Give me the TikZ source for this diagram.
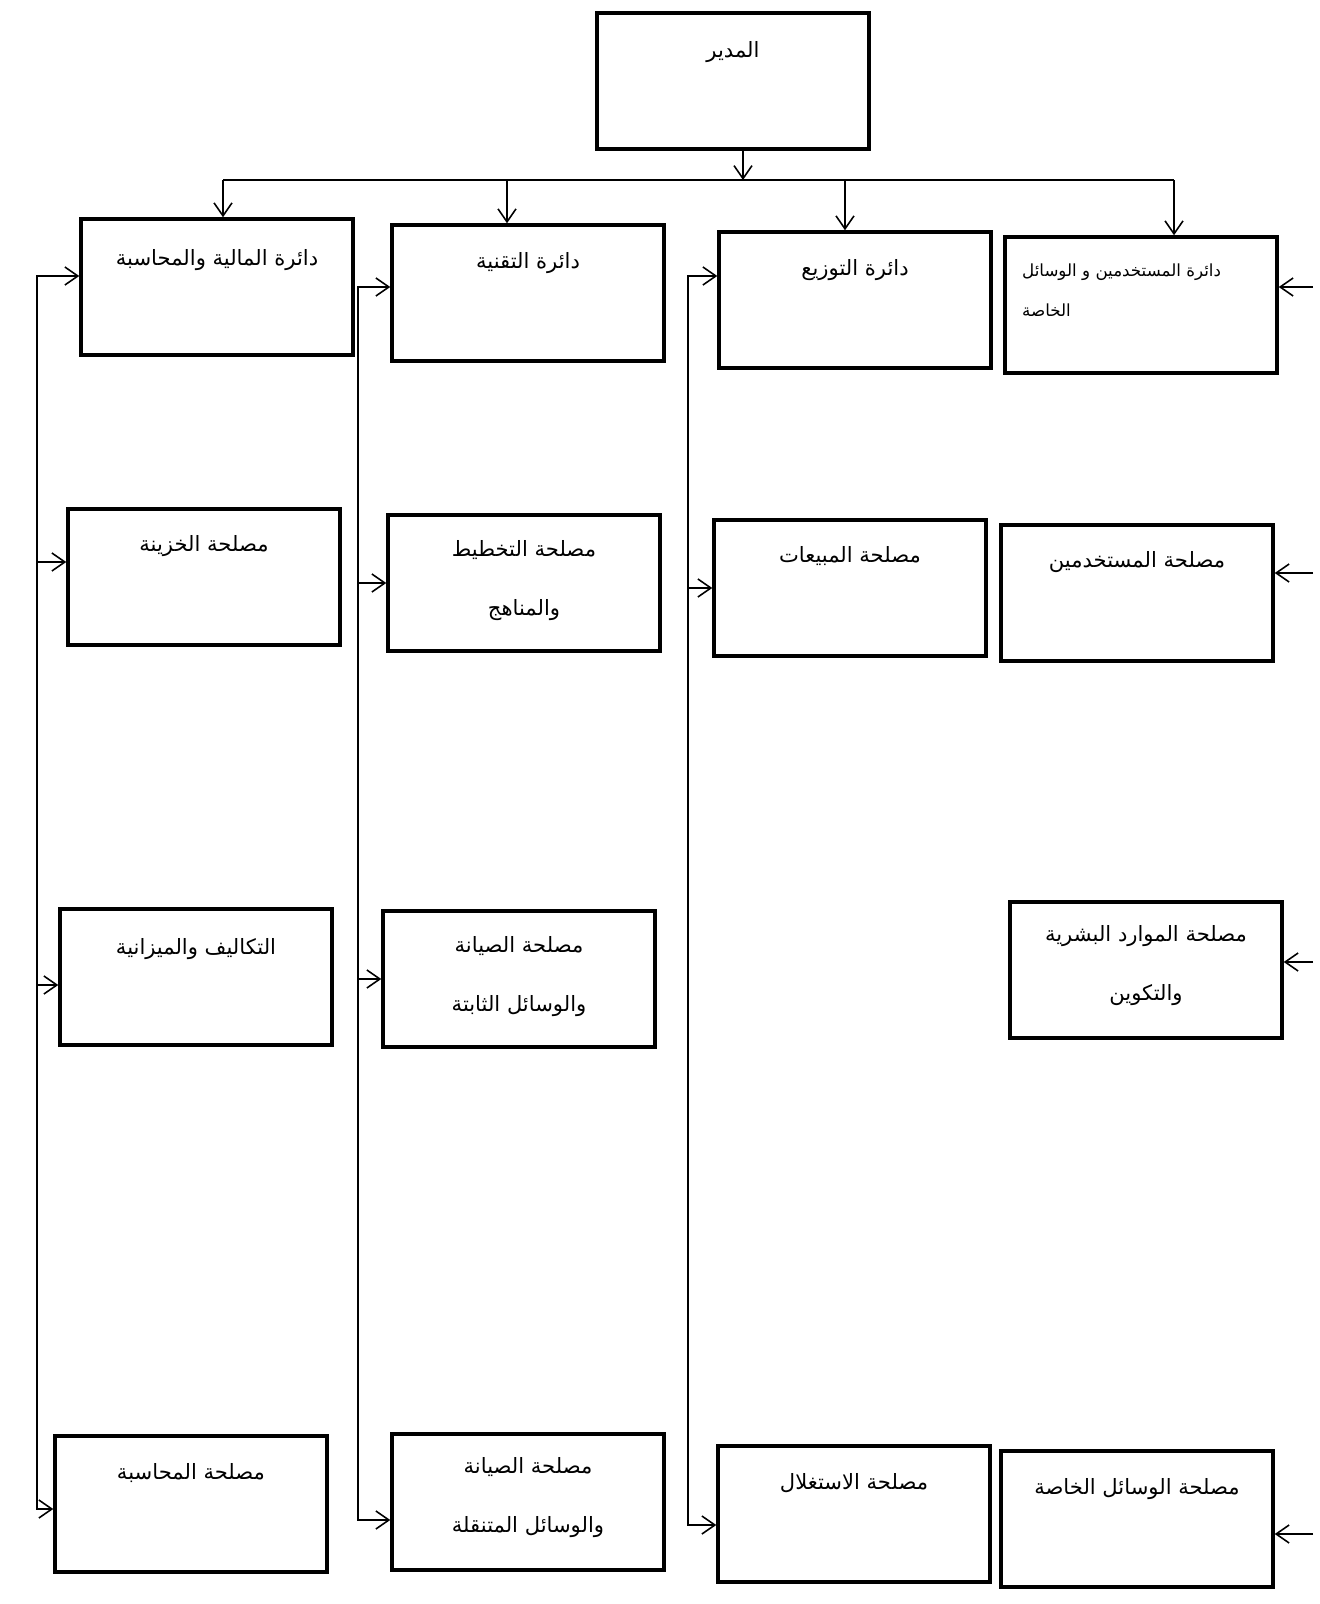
\documentclass[tikz,border=0pt]{standalone}
\usepackage{fontspec}
\usepackage{xcolor}
\usepackage{tikz}
\usetikzlibrary{arrows.meta}
\newfontfamily\arabicfont[Script=Arabic]{DejaVu Sans}
\TeXXeTstate=1
\newcommand{\artxt}[1]{\beginR #1\endR}

\begin{document}
\begin{tikzpicture}[x=0.02cm,y=-0.02cm,
  unit/.style={draw, line width=2pt, minimum width=5.44cm, minimum height=2.72cm, inner sep=0pt},
  lbl/.style={font=\arabicfont\fontsize{12}{33.5}\selectfont, align=center, inner sep=0pt},
  lblsmall/.style={font=\arabicfont\fontsize{9.5}{22.8}\selectfont, align=left, inner sep=0pt, anchor=west},
  link/.style={line width=0.9pt},
  arr/.style={link, -{Straight Barb[length=2.6mm,width=3.6mm]}},
  arrs/.style={link, {Straight Barb[length=2.6mm,width=3.6mm]}-{Straight Barb[length=2.6mm,width=3.6mm]}}]
\useasboundingbox (0,0) rectangle (1319,1604);
% Director
\node[unit] (dir) at (733,81) {};
\node[lbl] (dir-t) at ([yshift=-8.2mm]dir.north) {\artxt{المدير}};
% Departments
\node[unit] (fin) at (217,287) {};
\node[lbl] (fin-t) at ([yshift=-8.6mm]fin.north) {\artxt{دائرة المالية والمحاسبة}};
\node[unit] (tech) at (528,293) {};
\node[lbl] (tech-t) at ([yshift=-8mm]tech.north) {\artxt{دائرة التقنية}};
\node[unit] (dist) at (855,300) {};
\node[lbl] (dist-t) at ([yshift=-8mm]dist.north) {\artxt{دائرة التوزيع}};
\node[unit] (usr) at (1141,305) {};
\node[lblsmall] (usr-t) at ([xshift=3.7mm,yshift=-11mm]usr.north west) {\artxt{دائرة المستخدمين و الوسائل}\\\artxt{الخاصة}};
% Services, second row
\node[unit] (tre) at (204,577) {};
\node[lbl] (tre-t) at ([yshift=-7.8mm]tre.north) {\artxt{مصلحة الخزينة}};
\node[unit] (plan) at (524,583) {};
\node[lbl] (plan-t) at ([yshift=-13.4mm]plan.north) {\artxt{مصلحة التخطيط}\\\artxt{والمناهج}};
\node[unit] (sale) at (850,588) {};
\node[lbl] (sale-t) at ([yshift=-7.6mm]sale.north) {\artxt{مصلحة المبيعات}};
\node[unit] (usvc) at (1137,593) {};
\node[lbl] (usvc-t) at ([yshift=-7.8mm]usvc.north) {\artxt{مصلحة المستخدمين}};
% Services, third row
\node[unit] (cost) at (196,977) {};
\node[lbl] (cost-t) at ([yshift=-8.4mm]cost.north) {\artxt{التكاليف والميزانية}};
\node[unit] (mfix) at (519,979) {};
\node[lbl] (mfix-t) at ([yshift=-13.4mm]mfix.north) {\artxt{مصلحة الصيانة}\\\artxt{والوسائل الثابتة}};
\node[unit] (hr) at (1146,970) {};
\node[lbl] (hr-t) at ([yshift=-13mm]hr.north) {\artxt{مصلحة الموارد البشرية}\\\artxt{والتكوين}};
% Services, last row
\node[unit] (acc) at (191,1504) {};
\node[lbl] (acc-t) at ([yshift=-7.8mm]acc.north) {\artxt{مصلحة المحاسبة}};
\node[unit] (mmob) at (528,1502) {};
\node[lbl] (mmob-t) at ([yshift=-13mm]mmob.north) {\artxt{مصلحة الصيانة}\\\artxt{والوسائل المتنقلة}};
\node[unit] (expl) at (854,1514) {};
\node[lbl] (expl-t) at ([yshift=-7.8mm]expl.north) {\artxt{مصلحة الاستغلال}};
\node[unit] (spec) at (1137,1519) {};
\node[lbl] (spec-t) at ([yshift=-8mm]spec.north) {\artxt{مصلحة الوسائل الخاصة}};
% Bus from the director
\coordinate (bus-c) at (743,180);
\coordinate (bus-l) at (223,180);
\coordinate (bus-b) at (507,180);
\coordinate (bus-d) at (845,180);
\coordinate (bus-r) at (1174,180);
\draw[arr] (dir.south -| bus-c) -- (bus-c);
\draw[link] (bus-l) -- (bus-r);
\draw[arr] (bus-l) -- (bus-l |- fin.north);
\draw[arr] (bus-b) -- (bus-b |- tech.north);
\draw[arr] (bus-d) -- (bus-d |- dist.north);
\draw[arr] (bus-r) -- (bus-r |- usr.north);
% Rails
\coordinate (rail-a) at (37,0);
\coordinate (rail-b) at (358,0);
\coordinate (rail-c) at (688,0);
\coordinate (rail-d) at (1313,0);
\draw[arrs] ([yshift=2.2mm]fin.west) -| ([yshift=-1mm]acc.west -| rail-a) -- ([yshift=-1mm]acc.west);
\draw[arr] ([yshift=3mm]tre.west -| rail-a) -- ([yshift=3mm]tre.west);
\draw[arr] ([yshift=-1.6mm]cost.west -| rail-a) -- ([yshift=-1.6mm]cost.west);
\draw[arrs] ([yshift=1.2mm]tech.west) -| ([yshift=-3.6mm]mmob.west -| rail-b) -- ([yshift=-3.6mm]mmob.west);
\draw[arr] (plan.west -| rail-b) -- (plan.west);
\draw[arr] (mfix.west -| rail-b) -- (mfix.west);
\draw[arrs] ([yshift=4.8mm]dist.west) -| ([yshift=-2.2mm]expl.west -| rail-c) -- ([yshift=-2.2mm]expl.west);
\draw[arr] (sale.west -| rail-c) -- (sale.west);
\draw[arr] ([yshift=3.6mm]usr.east -| rail-d) -- ([yshift=3.6mm]usr.east);
\draw[arr] ([yshift=4mm]usvc.east -| rail-d) -- ([yshift=4mm]usvc.east);
\draw[arr] ([yshift=1.6mm]hr.east -| rail-d) -- ([yshift=1.6mm]hr.east);
\draw[arr] ([yshift=-3mm]spec.east -| rail-d) -- ([yshift=-3mm]spec.east);
\end{tikzpicture}
\end{document}
